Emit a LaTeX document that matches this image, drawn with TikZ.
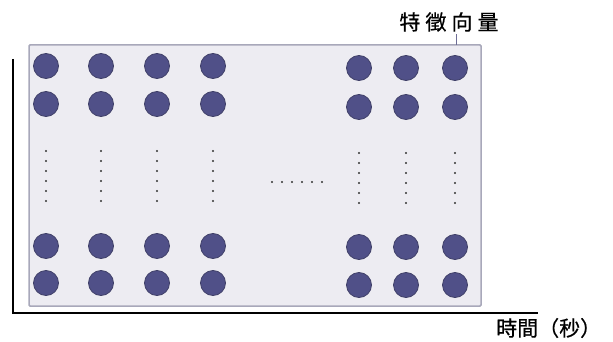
\documentclass[tikz,border=0pt]{standalone}
\usepackage{fontspec}
\newfontfamily\cjk[FakeBold=0.6]{Noto Sans CJK TC}
\newfontfamily\cjkwide[LetterSpace=24, FakeBold=0.6]{Noto Sans CJK TC}
\usetikzlibrary{positioning}

\definecolor{panelfill}{RGB}{237,236,242}
\definecolor{panelline}{RGB}{168,168,186}
\definecolor{featfill}{RGB}{80,80,136}
\definecolor{featline}{RGB}{64,64,104}
\definecolor{tickline}{RGB}{110,110,150}

\begin{document}
\begin{tikzpicture}[x=1pt, y=-1pt,
    feat/.style={circle, fill=featfill, draw=featline, line width=0.8pt,
        minimum size=25pt, inner sep=0pt},
    dotmark/.style={circle, fill=black!80, inner sep=0pt, minimum size=2.4pt},
    lbl/.style={font=\cjk\fontsize{21}{25}\selectfont, inner sep=0pt}]
    \useasboundingbox (0,0) rectangle (613,342);

    % 底板
    \node[draw=panelline, fill=panelfill, line width=1.5pt, rounded corners=1pt,
        minimum width=452pt, minimum height=261pt, inner sep=0pt] (panel) at (255,175.5) {};

    % 坐标轴
    \coordinate (ytop) at (13,59);
    \coordinate (origin) at (13,313);
    \coordinate (xend) at (538,313);
    \draw[line width=1.2pt] (ytop) -- (origin) -- (xend);
    \node[lbl, anchor=west] (tlabel) at (496,328) {時間（秒）};

    % 特徵向量 标注
    \node[lbl, inner sep=2pt, font=\cjkwide\fontsize{21}{25}\selectfont] (veclabel) at (449,22) {特徵向量};
    \coordinate (vectick) at (456,45);
    \draw[tickline, line width=0.8pt] (vectick) -- (vectick |- veclabel.south);

    % 左侧四列
    \foreach \c/\x in {1/46,2/101,3/157,4/213} {
        \foreach \r/\y in {1/66,2/104,3/246,4/283}
            \node[feat] (f-\c-\r) at (\x,\y) {};
        % 纵向省略点
        \foreach \k in {0,...,5}
            \node[dotmark] (d-\c-\k) at (\x,151+10*\k) {};
    }

    % 右侧三列
    \foreach \c/\x in {5/359,6/406,7/455} {
        \foreach \r/\y in {1/68,2/107,3/247,4/285}
            \node[feat] (f-\c-\r) at (\x,\y) {};
        \foreach \k in {0,...,5}
            \node[dotmark] (d-\c-\k) at (\x,153+10*\k) {};
    }

    % 中间横向省略点
    \foreach \k in {0,...,5}
        \node[dotmark] (h-\k) at (272+10*\k,182) {};
\end{tikzpicture}
\end{document}
